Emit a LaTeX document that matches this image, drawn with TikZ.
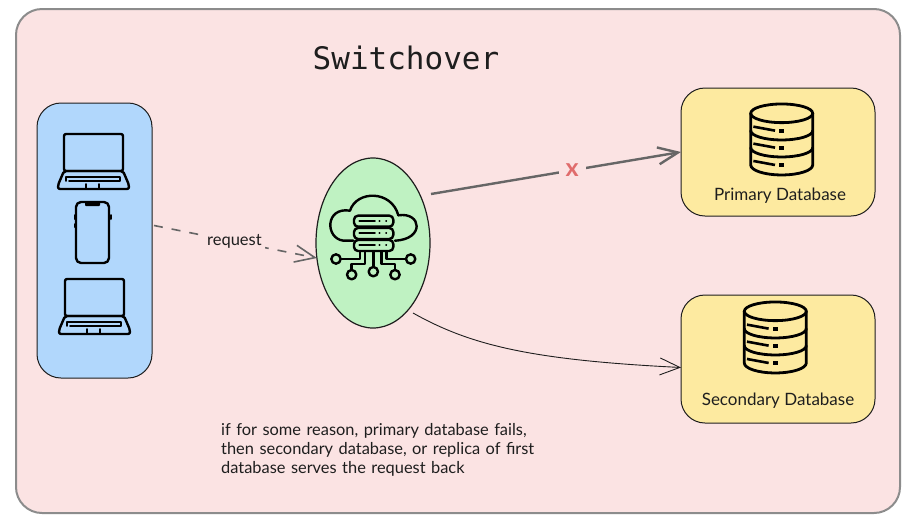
\documentclass[tikz,border=0pt]{standalone}
\usepackage{fontspec}
\setmainfont{Lato}
\newfontfamily\titlefont{DejaVu Sans Mono}
\usetikzlibrary{arrows.meta,shapes.geometric}
\definecolor{panelpink}{HTML}{FBE3E3}
\definecolor{clientblue}{HTML}{B1D7FC}
\definecolor{cloudgreen}{HTML}{BFF2C2}
\definecolor{dbyellow}{HTML}{FDEAA0}
\definecolor{inkdark}{HTML}{1E1E1E}
\definecolor{crossred}{HTML}{E06C6C}
\tikzset{
  box/.style={draw=inkdark,line width=1pt,rounded corners=24pt,inner sep=0pt,outer sep=0pt},
  label/.style={text=inkdark,inner sep=0pt,font=\fontsize{17}{17}\selectfont},
  tip/.style={-{Straight Barb[length=20pt,width=17pt]}},
  icon/.style={draw=black,line width=2.4pt,line join=round,line cap=round},
  laptop/.pic={
    \draw[icon,rounded corners=2pt] (0,0) rectangle (59,37);
    \draw[icon,rounded corners=2pt] (0,37) -- (-6,51) -- (-6,55) -- (65,55) -- (65,51) -- (59,37) -- cycle;
    \draw[icon,line width=1.8pt] (2,47) -- (2,43) -- (56,43) -- (56,47) -- (5,47);
    \draw[icon,line width=1.6pt] (22,50) -- (22,55) (35,50) -- (35,55);
  },
  database/.pic={
    \begin{scope}[x=.3333pt,y=-.3333pt]
      \draw[icon,line width=2.8pt] (0,0) ellipse (93 and 28);
      \draw[icon,line width=2.8pt] (-93,0) -- (-93,155) arc[start angle=180,end angle=0,x radius=93,y radius=30] -- (93,0);
      \foreach \y in {52,103}
        \draw[icon,line width=2.8pt] (-93,\y) arc[start angle=180,end angle=0,x radius=93,y radius=28];
      \foreach \y in {52,103,155} {
        \draw[icon,line width=2.6pt,line cap=butt] (-85,\y-12) -- (-20,\y);
        \fill (-7,\y-6) rectangle (7,\y+6);
      }
    \end{scope}
  },
}
\begin{document}
\begin{tikzpicture}[x=1pt,y=-1pt]
  \useasboundingbox (0,0) rectangle (918,528);
  \fill[white] (0,0) rectangle (918,528);

  % panel and title
  \node[box,draw=gray!90,line width=2pt,fill=panelpink,minimum width=884pt,minimum height=504pt,rounded corners=26pt] (panel) at (458,261) {};
  \node[inner sep=0pt,text=inkdark,font=\titlefont\fontsize{31}{31}\selectfont] (title) at (406,58) {Switchover};

  % nodes
  \node[box,fill=clientblue,minimum width=115pt,minimum height=275pt] (clients) at (94.5,240.5) {};
  \node[draw=inkdark,line width=1.2pt,fill=cloudgreen,ellipse,minimum width=114pt,minimum height=170pt,inner sep=0pt,outer sep=0pt] (cloud) at (373,243) {};
  \node[box,fill=dbyellow,minimum width=194pt,minimum height=128pt] (primary) at (778,152) {};
  \node[box,fill=dbyellow,minimum width=194pt,minimum height=128pt] (secondary) at (778,359) {};
  \node[label,text width=340pt,align=left,anchor=north west,font=\fontsize{16.4}{19}\selectfont] (note) at (221,423) {if for some reason, primary database fails,\\then secondary database, or replica of first\\database serves the request back};
  \node[label] (primarylabel) at (780,195.5) {Primary Database};
  \node[label] (secondarylabel) at (778,401) {Secondary Database};

  % icons
  \pic at (64,134) {laptop};
  \pic at (65,279) {laptop};
  \draw[icon,rounded corners=5pt] (76,202) rectangle (109,263);
  \fill[rounded corners=1pt] (85,202) rectangle (100,206);
  \draw[icon,line width=2pt] (74.5,215) -- (74.5,219) (74.5,224) -- (74.5,227) (110.5,215) -- (110.5,219);
  \pic at (781.7,113.3) {database};
  \pic at (775.3,311.3) {database};

  % cloud icon
  \begin{scope}[shift={(300,140)},x=.3333pt,y=-.3333pt]
    \draw[icon] (160,302) -- (130,302) .. controls (75,295) and (75,200) .. (150,212) .. controls (170,150) and (275,150) .. (295,226) .. controls (365,215) and (375,298) .. (285,302);
    \foreach \y in {227,264,300} {
      \draw[icon,fill=cloudgreen,rounded corners=4pt] (162,\y) rectangle (280,\y+33);
      \draw[icon,line width=1.8pt] (178,\y+16) -- (225,\y+16) (238,\y+16) -- (239,\y+16) (258,\y+16) -- (259,\y+16);
    }
    \draw[icon] (180,335) -- (180,357) -- (122,357);
    \draw[icon] (195,335) -- (195,372) -- (155,372) -- (155,390);
    \draw[icon] (220,335) -- (220,380);
    \draw[icon] (245,335) -- (245,372) -- (285,372) -- (285,390);
    \draw[icon] (260,335) -- (260,357) -- (318,357);
    \draw[icon] (108,357) circle (14);
    \draw[icon] (155,404) circle (14);
    \draw[icon] (220,395) circle (14);
    \draw[icon] (285,404) circle (14);
    \draw[icon] (332,357) circle (14);
  \end{scope}

  % connectors
  \coordinate (failstart) at (431,194);
  \coordinate (backstart) at (413,313);
  \draw[tip,draw=black!60,line width=1.6pt,dash pattern=on 9pt off 9pt,shorten <=2pt] (clients.15) -- node[label,fill=panelpink,inner sep=3pt,font=\fontsize{16.5}{16.5}\selectfont,pos=.5] (requestlabel) {request} (cloud.195);
  \draw[tip,draw=black!60,line width=2.4pt] (failstart) -- node[pos=.565,fill=panelpink,inner xsep=7pt,inner ysep=2pt,text=crossred,font=\bfseries\fontsize{25}{25}\selectfont] (cross) {x} (primary.west);
  \draw[tip,draw=inkdark,line width=.9pt] (backstart) .. controls (470,345) and (530,360) .. (secondary.185);
\end{tikzpicture}
\end{document}
